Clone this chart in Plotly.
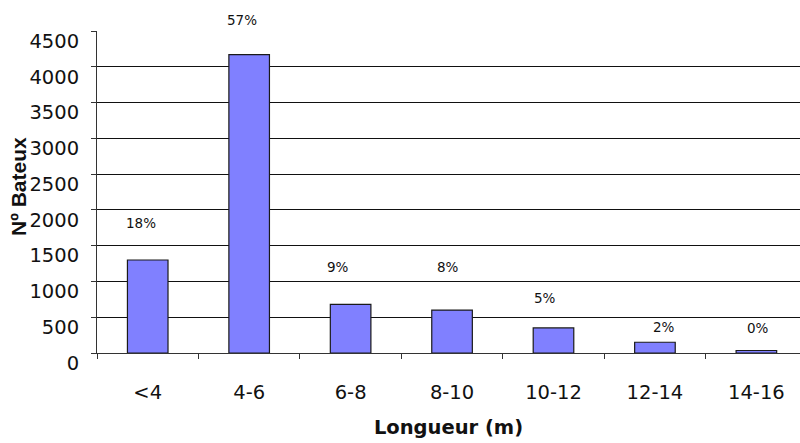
import plotly.graph_objects as go

# Boat counts by length class
categories = ["<4", "4-6", "6-8", "8-10", "10-12", "12-14", "14-16"]
counts = [1300, 4170, 680, 600, 350, 150, 35]
y_ticks = [0, 500, 1000, 1500, 2000, 2500, 3000, 3500, 4000, 4500]

total = sum(counts)
shares = [round(100 * c / total) for c in counts]

# label placement tweaks (pixels above the bar top, horizontal nudge)
label_lift = [37, 35, 37, 43, 30, 15, 23]
label_nudge = [-7, -7, -13, -4, -8, 9, 2]

FONT = "DejaVu Sans"

fig = go.Figure(
    go.Bar(
        x=categories,
        y=counts,
        width=0.4,
        marker=dict(color="#8080FF", line=dict(color="#1a1a1a", width=1.2)),
        hoverinfo="x+y",
    )
)

for cat, c, s, lift, dx in zip(categories, counts, shares, label_lift, label_nudge):
    fig.add_annotation(
        x=cat, y=c, text=f"{s}%", showarrow=False,
        yanchor="middle", xanchor="center",
        yshift=lift, xshift=dx,
        font=dict(family=FONT, size=13.5, color="#111"),
    )

# vertical axis title
fig.add_annotation(
    xref="paper", yref="paper", x=0, y=0.5,
    xanchor="center", yanchor="middle",
    xshift=-79, yshift=5, textangle=-90, showarrow=False,
    text="<b>Nº Bateux</b>",
    font=dict(family="Liberation Sans", size=21, color="#111"),
)

fig.update_layout(
    width=800, height=443,
    margin=dict(l=97, r=0, t=31, b=90),
    paper_bgcolor="white", plot_bgcolor="white",
    showlegend=False,
    font=dict(family=FONT, color="#111"),
    xaxis=dict(
        type="category",
        range=[-0.5, 6.43],
        showline=True, linecolor="#333", linewidth=1,
        ticks="outside", tickson="boundaries", ticklen=5, tickcolor="#333",
        tickfont=dict(family=FONT, size=19.5, color="#111"),
        ticklabelstandoff=22,
        showgrid=False,
        title=dict(text="<b>Longueur (m)</b>", font=dict(family=FONT, size=19.5, color="#111"), standoff=16),
    ),
    yaxis=dict(
        range=[0, 4500],
        tickvals=y_ticks,
        showgrid=True, gridcolor="#111", gridwidth=1,
        zeroline=False,
        showline=True, linecolor="#333", linewidth=1,
        ticks="outside", ticklen=5, tickcolor="#333",
        tickfont=dict(family=FONT, size=19.5, color="#111"),
        ticklabelshift=10,
        ticklabelstandoff=8,
    ),
)

fig.write_html("out.html")
